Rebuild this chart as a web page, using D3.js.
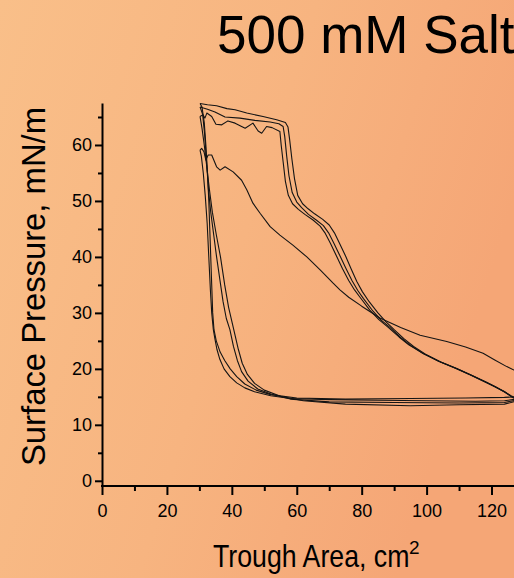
<!DOCTYPE html>
<html><head><meta charset="utf-8">
<script src="https://cdn.jsdelivr.net/npm/d3@7"></script>
<style>
html,body{margin:0;padding:0;overflow:hidden;}
svg{display:block;}
text{font-family:"Liberation Sans",Arial,sans-serif;fill:#000;}
</style></head>
<body>
<script>
// ---- data ----
const titleText = "500 mM Salt";
const xLabel = "Trough Area, cm";
const xLabelSup = "2";
const yLabel = "Surface Pressure, mN/m";
const xMajor = [0,20,40,60,80,100,120];
const xMinor = [10,30,50,70,90,110,130];
const yMajor = [0,10,20,30,40,50,60];
const yMinor = [5,15,25,35,45,55,65];

// first compression (right -> left)
const compression1 = [[130,19.3],[126.9,19.8],[124.7,20.4],[121,21.6],[117.4,22.8],[112,23.9],[106.2,24.9],[98,26.0],[92,27.4],[85.6,29.1],[80,31.2],[76,32.8],[73.3,34.1],[71.2,35.3],[67.2,37.7],[63.1,40.0],[58.8,42.1],[54.8,43.9],[51.8,45.4],[48.7,47.8],[46.5,49.6],[44.6,52.0],[43.0,53.7],[40.4,55.2],[37.9,56.1],[36.4,55.5],[35.3,56.1],[33.8,58.2],[32.7,58.2],[32.0,57.3],[31.4,58.8],[30.7,59.4],[30.2,59.1]];
const expansion1 = [[30.2,59.1],[30.6,58],[31.2,55],[31.8,51],[32.4,46],[32.9,40],[33.4,34],[33.8,30],[34.3,27],[34.8,25.3],[35.4,23.5],[36.3,21.7],[37.6,20],[39.4,18.6],[41.5,17.5],[44,16.6],[47,15.9],[52,15.2],[58,14.7],[70,14.5],[85,14.4],[100,14.3],[115,14.2],[124,14.3],[127.5,14.6]];
const compression2 = [[128,14.5],[126.5,14.9],[124.5,15.7],[121.5,16.7],[118.5,17.6],[114.5,18.7],[109.5,20.0],[104.5,21.2],[100,22.5],[96,24.0],[93,25.4],[90,27.0],[87.5,28.4],[85,30.0],[82.3,32.0],[80.2,33.8],[78.5,35.6],[76.8,37.8],[75,40.2],[73.2,42.4],[71.6,44.3],[70,45.7],[68,46.7],[65.5,47.7],[63.5,48.6],[61.8,49.5],[60.3,51],[59.3,54],[58.5,57.5],[57.8,61],[57.3,63.2],[56.5,64.0],[53.8,64.5],[49.6,65.1],[44.6,65.7],[41,66.3],[38.5,66.5],[35.3,67.0],[32.5,67.2],[30.2,67.4]];
const expansion2 = [[30.2,67.4],[30.8,66.8],[31.5,64],[32,60],[32.5,55],[32.9,50],[33.2,45],[33.5,40],[33.8,35],[34.1,30],[34.5,27],[35.2,25],[36.4,23],[37.8,21.5],[39.5,20],[41.5,18.6],[44,17.3],[47.5,16.2],[52,15.4],[60,14.8],[75,14.6],[95,14.7],[112,14.8],[124,14.9],[127.5,15.0]];
const compression3 = [[128,14.6],[126.2,15.0],[124,15.9],[121,16.8],[118,17.7],[114,18.8],[109,20.1],[104,21.3],[99,22.7],[95,24.2],[92,25.6],[88.7,27.4],[86,28.7],[83.5,30.3],[80.5,32.6],[78.8,34.0],[77,35.8],[75.2,37.9],[73.3,40.2],[71.4,42.5],[69.8,44.3],[68.2,45.6],[66,46.6],[63.6,47.6],[61.5,48.8],[60,49.8],[58.6,51.5],[57.6,54.5],[56.9,58],[56.3,61.5],[55.8,63.3],[54.5,63.8],[51.8,64.1],[47.1,64.4],[42.5,64.8],[37.9,65.0],[34.8,65.9],[32.5,66.4],[30.2,66.8]];
const expansion3 = [[30.2,66.8],[31,65.5],[31.6,62],[32.2,57],[32.8,52],[33.5,48],[34.4,44],[35.3,40],[36.3,36],[37.3,32],[38.3,29],[39.4,27],[40.5,24],[41.7,21.5],[43,19.5],[45,17.8],[48,16.4],[52,15.5],[58,14.6],[70,14.1],[90,14.0],[110,13.9],[124,14.0],[127.5,14.4]];
const compression4 = [[128,14.7],[126,15.2],[123.8,16.0],[120.8,16.9],[117.5,17.8],[113.5,18.9],[108.5,20.2],[103.5,21.4],[98.5,22.9],[94.5,24.3],[91.5,25.7],[88,27.5],[85.3,28.8],[82.5,30.5],[79.6,32.7],[77.8,34.1],[76,35.8],[74.1,37.9],[72.2,40.2],[70.4,42.4],[68.8,44.2],[67.2,45.5],[65,46.6],[62.5,47.6],[60.5,48.5],[58.7,49.5],[57.4,51],[56.5,53.5],[55.8,57],[55.2,60],[54.8,62.4],[52.4,63.1],[50.7,63.3],[49.2,62.1],[48.1,62.5],[46.5,63.9],[44.1,63.0],[41.0,63.9],[38.8,64.3],[36.9,63.6],[35.1,63.7],[33.8,65.1],[32.3,65.7],[31.7,64.8],[31.1,65.4],[30.2,65.1]];
const expansion4 = [[30.2,65.1],[30.8,63],[31.5,60],[32.3,56],[33.1,52],[34,48],[35.2,44],[36.5,40],[37.8,35],[39,31],[40.2,28],[41,26],[42,23.5],[43.2,21],[44.8,19],[47,17.4],[50,16.2],[55,15.1],[62,14.3],[75,13.7],[95,13.4],[110,13.6],[124,13.7],[127.5,14.2]];

const curves = [compression1, expansion1, compression2, expansion2, compression3, expansion3, compression4, expansion4];

// ---- drawing ----
const W = 514, H = 578;
const svg = d3.select("body").append("svg").attr("width", W).attr("height", H);
const defs = svg.append("defs");
const grad = defs.append("linearGradient").attr("id","bg").attr("x1","0").attr("y1","0").attr("x2","1").attr("y2","0.35");
grad.append("stop").attr("offset","0%").attr("stop-color","#f9bf89");
grad.append("stop").attr("offset","55%").attr("stop-color","#f7b480");
grad.append("stop").attr("offset","100%").attr("stop-color","#f5a676");
svg.append("rect").attr("width",W).attr("height",H).attr("fill","url(#bg)");

const x = d3.scaleLinear().domain([0,130]).range([102, 102 + 3.246*130]);
const y = d3.scaleLinear().domain([-0.93, 67.5]).range([486, 103]);

// title
svg.append("text").attr("x",217).attr("y",53).attr("font-size",53).text(titleText);

// curves
const line = d3.line().x(d => x(d[0])).y(d => y(d[1]));
svg.append("g").selectAll("path").data(curves).join("path")
  .attr("d", line).attr("fill","none").attr("stroke","#141414").attr("stroke-width",1.1)
  .attr("stroke-linejoin","round");

// x axis
const gx = svg.append("g").attr("transform",`translate(0,486)`);
gx.call(d3.axisBottom(x).tickValues(xMajor).tickSize(9).tickPadding(9.5).tickSizeOuter(0));
gx.append("g").call(d3.axisBottom(x).tickValues(xMinor).tickSize(5).tickFormat("").tickSizeOuter(0))
  .select(".domain").remove();
// y axis
const gy = svg.append("g").attr("transform",`translate(102,0)`);
gy.call(d3.axisLeft(y).tickValues(yMajor).tickSize(7).tickPadding(3).tickSizeOuter(0));
gy.append("g").call(d3.axisLeft(y).tickValues(yMinor).tickSize(4).tickFormat("").tickSizeOuter(0))
  .select(".domain").remove();

svg.selectAll(".domain").attr("stroke","#000").attr("stroke-width",2);
svg.selectAll(".tick line").attr("stroke","#000").attr("stroke-width",2);
svg.selectAll(".tick text").attr("font-size",18).attr("font-family",'"Liberation Sans",Arial,sans-serif').attr("fill","#000");
gx.select(".domain").attr("d", `M${x(0)-1},0H${W+5}`);

// axis labels
svg.append("text").attr("transform","translate(213,567) scale(0.835,1)").attr("font-size",32).text(xLabel);
svg.append("text").attr("x",409).attr("y",554).attr("font-size",19).text(xLabelSup);
svg.append("text").attr("transform","translate(45,286.5) rotate(-90)").attr("text-anchor","middle")
  .attr("font-size",33).attr("textLength",359).attr("lengthAdjust","spacingAndGlyphs").text(yLabel);
</script>
</body></html>
